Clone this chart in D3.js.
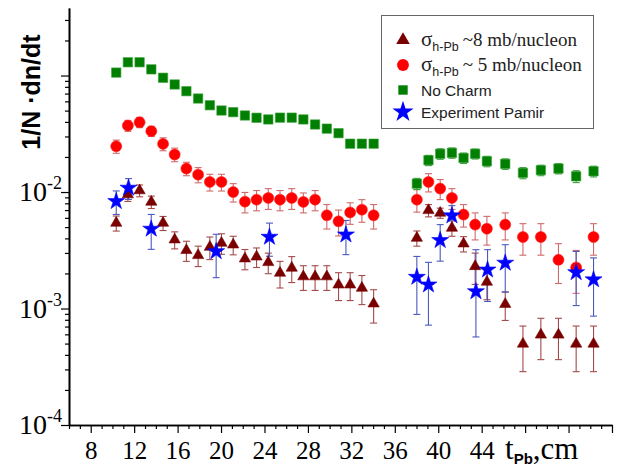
<!DOCTYPE html>
<html><head><meta charset="utf-8">
<script src="https://cdn.jsdelivr.net/npm/d3@7"></script>
<style>body{margin:0;background:#fff}svg{display:block}</style>
</head><body>
<svg id="c" width="625" height="470"></svg>
<script>
// thickness of lead, cm (shared by model series)
const thickness = [10.35, 11.42, 12.50, 13.58, 14.66, 15.73, 16.81, 17.89, 18.97, 20.04, 21.12, 22.20, 23.27,
  24.35, 25.43, 26.51, 27.58, 28.66, 29.74, 30.82, 31.89, 32.97, 34.05,
  38.03, 39.10, 40.18, 41.26, 42.33, 43.40, 44.48, 46.17, 47.80, 49.45, 51.07, 52.70, 54.30];
// sigma h-Pb ~ 8 mb/nucleon
const sigma8 = [0.00542, 0.0095, 0.0103, 0.00822, 0.00542, 0.0039, 0.00316, 0.00286, 0.00337, 0.00365, 0.00353, 0.00268, 0.00278,
  0.00249, 0.00202, 0.00223, 0.00188, 0.00188, 0.00188, 0.0016, 0.0016, 0.0015, 0.0011,
  0.00403, 0.00696, 0.00661, 0.00491, 0.0036, 0.0023, 0.00169, 0.00109, 0.000497, 0.000594, 0.000594, 0.000497, 0.000497];
const sigma8Err = [0.0008, 0.0012, 0.0012, 0.001, 0.00075, 0.00065, 0.00062, 0.00057, 0.00074, 0.00073, 0.00064, 0.00053, 0.00053,
  0.0005, 0.00052, 0.00056, 0.00045, 0.00045, 0.00045, 0.00043, 0.00043, 0.00042, 0.00035,
  0.0006, 0.00084, 0.00066, 0.00074, 0.00054, 0.00069, 0.0005, 0.0003, 0.00021, 0.00023, 0.00023, 0.00021, 0.00021];
// sigma h-Pb ~ 5 mb/nucleon
const sigma5 = [0.0247, 0.0372, 0.0397, 0.0333, 0.0259, 0.021, 0.0159, 0.0141, 0.0122, 0.0122, 0.01, 0.00827, 0.0086,
  0.00889, 0.0086, 0.00889, 0.00822, 0.0086, 0.00631, 0.0056, 0.00668, 0.00705, 0.00631,
  0.0086, 0.0122, 0.0107, 0.00889, 0.0064, 0.00525, 0.00484, 0.00525, 0.00411, 0.00411, 0.00262, 0.00225, 0.00411];
const sigma5Err = [0.0032, 0.004, 0.004, 0.0033, 0.0033, 0.0028, 0.0021, 0.0021, 0.002, 0.002, 0.0018, 0.00165, 0.0017,
  0.0018, 0.0017, 0.0018, 0.0016, 0.0017, 0.0015, 0.0014, 0.0014, 0.00155, 0.0015,
  0.00188, 0.00218, 0.00209, 0.0018, 0.0014, 0.00137, 0.00134, 0.00137, 0.00124, 0.00124, 0.00098, 0.0009, 0.00124];
// No charm
const noCharm = [0.106, 0.130, 0.130, 0.113, 0.0957, 0.0838, 0.0734, 0.0635, 0.0556, 0.0501, 0.0485, 0.0454, 0.0434,
  0.042, 0.0435, 0.0435, 0.042, 0.038, 0.035, 0.032, 0.026, 0.026, 0.026,
  0.0118, 0.01875, 0.0213, 0.0217, 0.0196, 0.0213, 0.01837, 0.01745, 0.0146, 0.0154, 0.0159, 0.01365, 0.01507];
const noCharmErr = [0.004, 0.005, 0.005, 0.004, 0.004, 0.003, 0.003, 0.0025, 0.002, 0.002, 0.002, 0.002, 0.002,
  0.002, 0.002, 0.002, 0.002, 0.002, 0.0018, 0.0016, 0.0015, 0.0015, 0.0015,
  0.0013, 0.0019, 0.0022, 0.0022, 0.002, 0.0021, 0.0019, 0.0018, 0.0016, 0.0016, 0.0016, 0.0016, 0.0016];
// Experiment Pamir
const pamirX = [10.35, 11.48, 13.57, 19.55, 24.46, 31.50, 38.03, 39.10, 40.18, 41.26, 43.47, 44.54, 46.17, 52.70, 54.30];
const pamirY = [0.00832, 0.01084, 0.00482, 0.00309, 0.00411, 0.0043, 0.00186, 0.0016, 0.00385, 0.00627, 0.0014, 0.00215, 0.00246, 0.00204, 0.00177];
const pamirErrUp = [0.0019, 0.0022, 0.0016, 0.00125, 0.0013, 0.0014, 0.00094, 0.00089, 0.0014, 0.00137, 0.0018, 0.00105, 0.00107, 0.00105, 0.00095];
const pamirErrDn = [0.0019, 0.0022, 0.0016, 0.00125, 0.0013, 0.0014, 0.00097, 0.00088, 0.0013, 0.0013, 0.00083, 0.001, 0.00108, 0.00098, 0.00091];
// axis ticks
const xTickLabels = [8, 12, 16, 20, 24, 28, 32, 36, 40, 44];
const yTickExps = [-4, -3, -2];

const svg = d3.select("#c");
const x = d3.scaleLinear().domain([6, 56]).range([69, 612]);
const y = d3.scaleLog().domain([1e-4, 0.38]).range([425, 8]);
const yc = v => v <= 1e-4 ? 425 : y(v);

// axes
const xMinor = d3.range(6, 57, 1).filter(v => v % 4 !== 0);
const xMajor = d3.range(8, 57, 4);
const gx = svg.append("g").attr("transform", "translate(0,425)");
gx.call(d3.axisBottom(x).tickValues(xMinor).tickSize(4).tickFormat("").tickSizeOuter(0));
const gxMaj = gx.append("g").call(d3.axisBottom(x).tickValues(xMajor).tickSize(8)
  .tickFormat(d => xTickLabels.includes(d) ? String(d) : "").tickSizeOuter(0));
gxMaj.selectAll(".tick text").attr("y", 34).attr("dy", 0).attr("fill", "#000")
  .attr("font-family", "Liberation Serif, Times New Roman, serif").attr("font-size", 25);
const yMinor = [], yMajor = [1e-4, 1e-3, 1e-2, 1e-1];
[1e-4, 1e-3, 1e-2, 1e-1].forEach(d => { for (let k = 2; k <= 9; k++) if (d * k <= 0.38) yMinor.push(d * k); });
const gy = svg.append("g").attr("transform", "translate(69,0)");
gy.call(d3.axisLeft(y).tickValues(yMinor).tickSize(4).tickFormat("").tickSizeOuter(0));
gy.append("g").call(d3.axisLeft(y).tickValues(yMajor).tickSize(8).tickFormat("").tickSizeOuter(0));
svg.selectAll(".domain").attr("stroke", "#000").attr("stroke-width", 1.6);
svg.selectAll(".tick line").attr("stroke", "#000").attr("stroke-width", 1.2);

// y tick labels (10 with superscript exponent)
const yl = svg.append("g").selectAll("text").data(yTickExps).join("text")
  .attr("x", 62).attr("y", d => y(Math.pow(10, d)) + 9).attr("text-anchor", "end")
  .attr("font-family", "Liberation Serif, Times New Roman, serif").attr("font-size", 28);
yl.append("tspan").text("10");
yl.append("tspan").attr("dy", -12).attr("font-size", 18).text(d => "-" + Math.abs(d));

// axis titles
svg.append("text").attr("transform", "translate(40,92) rotate(-90)").attr("text-anchor", "middle")
  .attr("font-family", "Liberation Sans, Arial, sans-serif").attr("font-weight", "bold").attr("font-size", 25)
  .text("1/N \u00B7dn/dt");
const xt = svg.append("text").attr("x", 505).attr("y", 459)
  .attr("font-family", "Liberation Serif, Times New Roman, serif").attr("font-size", 31);
xt.append("tspan").text("t");
xt.append("tspan").attr("dy", 5).attr("font-family", "Liberation Sans, Arial, sans-serif").attr("font-weight", "bold").attr("font-size", 15).text("Pb");
xt.append("tspan").attr("dy", -5).text(",cm");

// error bars
function errBars(xs, ys, up, dn, color) {
  const g = svg.append("g").attr("stroke", color).attr("stroke-width", 1.1).attr("fill", "none");
  xs.forEach((xv, i) => {
    const px = x(xv), y1 = yc(ys[i] + up[i]), y2 = yc(ys[i] - dn[i]);
    g.append("line").attr("x1", px).attr("x2", px).attr("y1", y1).attr("y2", y2);
    g.append("line").attr("x1", px - 3.5).attr("x2", px + 3.5).attr("y1", y1).attr("y2", y1);
    if (ys[i] - dn[i] > 1e-4) g.append("line").attr("x1", px - 3.5).attr("x2", px + 3.5).attr("y1", y2).attr("y2", y2);
  });
}
function markers(xs, ys, type, size, fill, stroke) {
  svg.append("g").selectAll("path").data(xs).join("path")
    .attr("d", d3.symbol().type(type).size(size))
    .attr("transform", (d, i) => `translate(${x(d)},${y(ys[i])})`)
    .attr("fill", fill).attr("stroke", stroke).attr("stroke-width", 0.6);
}

errBars(thickness, sigma8, sigma8Err, sigma8Err, "#a44a4a");
errBars(thickness, sigma5, sigma5Err, sigma5Err, "#d06a6a");
errBars(thickness, noCharm, noCharmErr, noCharmErr, "#3f9f3f");
errBars(pamirX, pamirY, pamirErrUp, pamirErrDn, "#4a5ac0");
markers(thickness, sigma8, d3.symbolTriangle, 55, "#7a0000", "#7a0000");
markers(thickness, sigma5, d3.symbolCircle, 95, "#ff0000", "#ff2020");
markers(thickness, noCharm, d3.symbolSquare, 88, "#007f00", "#3aa23a");
markers(pamirX, pamirY, d3.symbolStar, 90, "#0000ff", "#0000ff");

// legend
const lg = svg.append("g");
lg.append("rect").attr("x", 381.5).attr("y", 15.5).attr("width", 212).attr("height", 113)
  .attr("fill", "#fff").attr("stroke", "#666").attr("stroke-width", 1);
const legItems = [
  { t: d3.symbolTriangle, s: 80, c: "#7a0000", y: 40, sig: "~8 mb/nucleon" },
  { t: d3.symbolCircle, s: 110, c: "#ff0000", y: 65, sig: "~ 5 mb/nucleon" },
  { t: d3.symbolSquare, s: 88, c: "#007f00", y: 90, label: "No Charm" },
  { t: d3.symbolStar, s: 140, c: "#0000ff", y: 112, label: "Experiment Pamir" }
];
legItems.forEach(it => {
  lg.append("path").attr("d", d3.symbol().type(it.t).size(it.s)).attr("transform", `translate(403,${it.y})`).attr("fill", it.c);
  if (it.sig) {
    const t = lg.append("text").attr("x", 421).attr("y", it.y + 6).attr("font-family", "Liberation Serif, Times New Roman, serif").attr("font-size", 21).attr("fill", "#222");
    t.append("tspan").text("\u03C3");
    t.append("tspan").attr("dy", 5).attr("font-family", "Liberation Sans, Arial, sans-serif").attr("font-size", 12.5).text("h-Pb");
    t.append("tspan").attr("dy", -5).attr("dx", 4).attr("font-size", 19).text(it.sig);
  } else {
    lg.append("text").attr("x", 421).attr("y", it.y + 5.5).attr("font-family", "Liberation Sans, Arial, sans-serif").attr("font-size", 15.5).attr("fill", "#222").text(it.label);
  }
});
</script>
</body></html>
